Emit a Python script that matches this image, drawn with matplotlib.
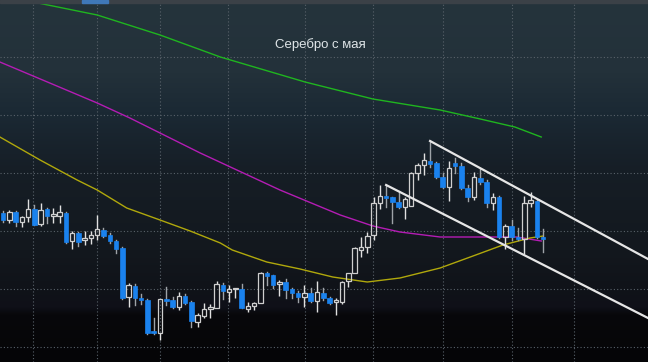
import numpy as np
import matplotlib
matplotlib.use("Agg")
import matplotlib.pyplot as plt
from matplotlib.patches import Rectangle

# daily candles, price units (open, high, low, close)
opens = [21.49, 21.42, 21.50, 21.40, 21.45, 21.53, 21.38, 21.53, 21.46, 21.46,
         21.49, 21.21, 21.29, 21.22, 21.24, 21.27, 21.32, 21.27, 21.21, 21.14,
         20.65, 20.76, 20.64, 20.62, 20.30, 20.29, 20.63, 20.62, 20.55, 20.66,
         20.60, 20.40, 20.46, 20.53, 20.54, 20.77, 20.70, 20.725, 20.73, 20.53,
         20.56, 20.59, 20.89, 20.87, 20.78, 20.80, 20.73, 20.69, 20.65, 20.69,
         20.61, 20.69, 20.64, 20.60, 20.60, 20.81, 20.89, 21.12, 21.15, 21.27,
         21.59, 21.66, 21.65, 21.60, 21.55, 21.56, 21.89, 21.97, 22.01, 21.99,
         21.85, 21.75, 21.99, 21.96, 21.74, 21.65, 21.84, 21.80, 21.59, 21.65,
         21.25, 21.36, 21.25, 21.23, 21.59, 21.61, 21.25]
highs = [21.51, 21.52, 21.51, 21.46, 21.63, 21.57, 21.59, 21.54, 21.54, 21.57,
         21.50, 21.31, 21.30, 21.31, 21.31, 21.47, 21.34, 21.29, 21.22, 21.15,
         20.79, 20.78, 20.68, 20.63, 20.44, 20.63, 20.75, 20.65, 20.70, 20.68,
         20.61, 20.49, 20.59, 20.58, 20.81, 20.79, 20.77, 20.74, 20.78, 20.60,
         20.60, 20.90, 20.90, 20.87, 20.82, 20.83, 20.74, 20.71, 20.77, 20.74,
         20.81, 20.74, 20.65, 20.64, 20.81, 20.89, 21.15, 21.25, 21.30, 21.65,
         21.77, 21.77, 21.65, 21.71, 21.65, 21.90, 21.99, 22.09, 22.21, 22.00,
         21.89, 22.01, 22.04, 21.99, 21.77, 21.90, 21.93, 21.82, 21.69, 21.66,
         21.38, 21.42, 21.34, 21.66, 21.70, 21.62, 21.33]
lows = [21.40, 21.39, 21.36, 21.35, 21.40, 21.37, 21.36, 21.39, 21.39, 21.39,
        21.19, 21.13, 21.16, 21.17, 21.18, 21.22, 21.25, 21.19, 21.09, 20.63,
        20.55, 20.57, 20.58, 20.28, 20.28, 20.22, 20.57, 20.54, 20.52, 20.58,
        20.35, 20.35, 20.44, 20.44, 20.54, 20.63, 20.60, 20.64, 20.54, 20.50,
        20.52, 20.59, 20.77, 20.74, 20.66, 20.64, 20.64, 20.60, 20.55, 20.60,
        20.50, 20.62, 20.58, 20.47, 20.58, 20.75, 20.89, 21.05, 21.09, 21.22,
        21.53, 21.55, 21.39, 21.54, 21.43, 21.56, 21.82, 21.87, 21.95, 21.84,
        21.74, 21.61, 21.89, 21.73, 21.61, 21.62, 21.78, 21.55, 21.52, 21.24,
        21.13, 21.22, 21.22, 21.08, 21.55, 21.24, 21.10]
closes = [21.42, 21.50, 21.40, 21.45, 21.53, 21.37, 21.52, 21.46, 21.48, 21.50,
          21.20, 21.29, 21.20, 21.24, 21.27, 21.33, 21.26, 21.21, 21.13, 20.64,
          20.77, 20.64, 20.62, 20.29, 20.29, 20.63, 20.61, 20.55, 20.66, 20.59,
          20.41, 20.47, 20.53, 20.55, 20.78, 20.71, 20.73, 20.74, 20.54, 20.56,
          20.59, 20.89, 20.86, 20.77, 20.80, 20.72, 20.69, 20.65, 20.69, 20.61,
          20.70, 20.64, 20.59, 20.62, 20.80, 20.89, 21.14, 21.15, 21.26, 21.59,
          21.66, 21.64, 21.60, 21.55, 21.63, 21.89, 21.97, 22.02, 21.98, 21.85,
          21.75, 21.94, 21.96, 21.74, 21.65, 21.85, 21.80, 21.59, 21.65, 21.25,
          21.36, 21.25, 21.23, 21.59, 21.62, 21.25, 21.23]

# moving averages read at a few bar positions
green_x = [-0.5, 4.8, 15.0, 25.0, 34.6, 48.1, 58.9, 69.6, 76.0, 81.5, 85.7]
green_y = [23.67, 23.60, 23.47, 23.27, 23.05, 22.80, 22.63, 22.52, 22.43, 22.35, 22.25]
magenta_x = [-0.5, 4.8, 15.0, 20.2, 31.4, 44.1, 53.7, 58.9, 63.2, 69.6, 78.7, 81.8, 85.7]
magenta_y = [23.00, 22.86, 22.59, 22.44, 22.09, 21.72, 21.47, 21.36, 21.30, 21.25, 21.25, 21.25, 21.21]
yellow_x = [-0.5, 5.9, 11.8, 15.0, 19.7, 25.0, 29.8, 34.6, 36.5, 42.0, 47.3, 52.5,
            58.0, 63.2, 69.6, 74.4, 79.6, 83.9, 86.0]
yellow_y = [22.25, 22.02, 21.82, 21.72, 21.54, 21.42, 21.31, 21.19, 21.12, 21.00, 20.93, 20.85,
            20.80, 20.84, 20.94, 21.05, 21.17, 21.24, 21.26]

# trend channel (start bar, start price, end bar, end price)
upper_line = [68.0, 22.21, 102.7, 21.03]
lower_line = [61.0, 21.77, 102.7, 20.44]

h_grid = [20.15, 20.73, 21.31, 21.89, 22.47, 23.05]
v_grid = [4.8, 15.0, 25.0, 35.8, 48.1, 58.9, 70.0, 81.1, 90.9]

title = "Серебро с мая"

xmin, xmax = -0.48, 102.7
ymin, ymax = 20.0, 23.62

fig = plt.figure(figsize=(6.48, 3.62), dpi=100)
ax = fig.add_axes([0, 0, 1, 1])
ax.set_xlim(xmin, xmax)
ax.set_ylim(ymin, ymax)
ax.axis("off")

# banded dark background
stops = [0.0, 0.20, 0.31, 0.47, 0.69, 0.80, 0.85, 0.87, 1.0]
cols = ["#25343c", "#23313a", "#1b2934", "#161e26", "#13181e", "#101319", "#0f1018", "#08080b", "#050507"]
rgb = np.array([matplotlib.colors.to_rgb(c) for c in cols])
t = np.linspace(0, 1, 362)
grad = np.stack([np.interp(t, stops, rgb[:, k]) for k in range(3)], axis=1)
ax.imshow(grad[:, None, :], extent=[xmin, xmax, ymin, ymax], aspect="auto", zorder=0)

for g in h_grid:
    ax.axhline(g, color="#59626a", lw=0.8, ls=(0, (1, 2)), zorder=1)
for g in v_grid:
    ax.axvline(g, color="#59626a", lw=0.8, ls=(0, (1, 2)), zorder=1)

ax.plot(green_x, green_y, color="#1fb51f", lw=1.0, zorder=2)
ax.plot(magenta_x, magenta_y, color="#b41cb4", lw=1.0, zorder=2)
ax.plot(yellow_x, yellow_y, color="#b0a80c", lw=1.0, zorder=2)

# candles
w = 0.72
for i in range(len(opens)):
    o, h, l, c = opens[i], highs[i], lows[i], closes[i]
    top, bot = max(o, c), min(o, c)
    if c >= o:
        ax.plot([i, i], [top, h], color="#e0e0e0", lw=1.0, zorder=3, solid_capstyle="butt")
        ax.plot([i, i], [l, bot], color="#e0e0e0", lw=1.0, zorder=3, solid_capstyle="butt")
        ax.bar(i, max(top - bot, 0.01), bottom=bot, width=w, facecolor="none",
               edgecolor="#cfcfcf", linewidth=0.9, zorder=4)
    else:
        ax.plot([i, i], [l, h], color="#9ea3a8", lw=1.0, zorder=3)
        ax.bar(i, max(top - bot, 0.02), bottom=bot, width=w, color="#1a82ee",
               edgecolor="#1a82ee", linewidth=0.5, zorder=4)

ax.plot([upper_line[0], upper_line[2]], [upper_line[1], upper_line[3]], color="#e6e6e6", lw=1.6, zorder=5)
ax.plot([lower_line[0], lower_line[2]], [lower_line[1], lower_line[3]], color="#e6e6e6", lw=1.6, zorder=5)

ax.text(50.5, 23.17, title, color="#dfe5e8", fontsize=9.5, family="Liberation Sans",
        ha="center", va="center", zorder=6)

# thin strip at the top edge
fig.patches.append(Rectangle((0, 0.993), 1, 0.007, transform=fig.transFigure, color="#3b4147", zorder=10))
fig.patches.append(Rectangle((82 / 648, 0.991), 26 / 648, 0.009, transform=fig.transFigure, color="#3f78b8", zorder=11))

plt.savefig("out.png", dpi=100)
